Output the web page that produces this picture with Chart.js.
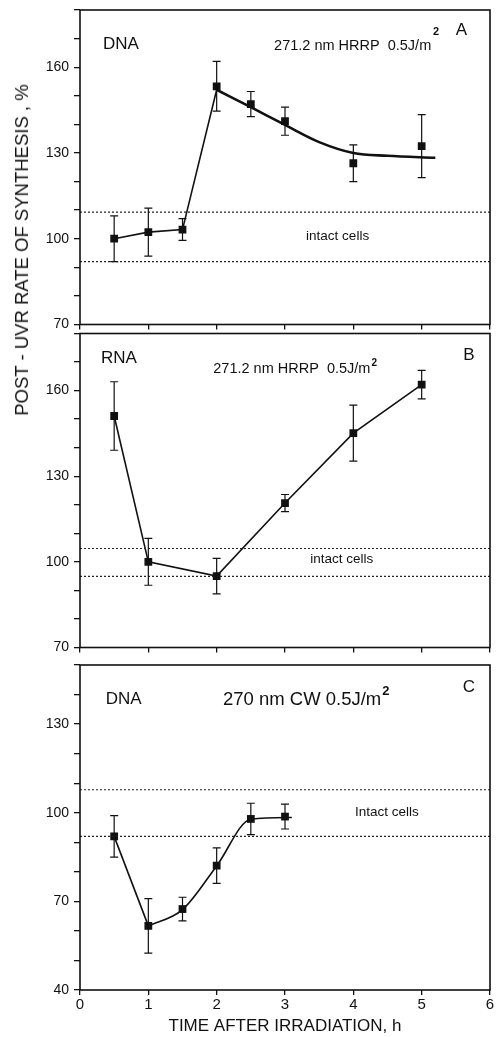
<!DOCTYPE html>
<html>
<head>
<meta charset="utf-8">
<script src="https://cdn.jsdelivr.net/npm/chart.js@4.4.0/dist/chart.umd.min.js"></script>
<style>
  body { margin: 0; background: #fff; font-family: "Liberation Sans", Arial, sans-serif; }
  #wrap { position: relative; width: 497px; height: 1037px; }
  .panel { position: absolute; left: 0; width: 497px; }
  #ytitle {
    position: absolute; left: 22px; top: 250px;
    transform: translate(-50%, -50%) rotate(-90deg);
    white-space: nowrap; font-size: 18.5px; color: #111;
  }
</style>
</head>
<body>
<div id="wrap">
  <div class="panel" style="top:0;height:330px"><canvas id="chartA"></canvas></div>
  <div class="panel" style="top:328px;height:325px"><canvas id="chartB"></canvas></div>
  <div class="panel" style="top:655px;height:382px"><canvas id="chartC"></canvas></div>
  <div id="ytitle">POST - UVR RATE OF SYNTHESIS , %</div>
</div>
<script>
// panel A: DNA, 271.2 nm HRRP
const aTimes = [0.5, 1, 1.5, 2, 2.5, 3, 4, 5];
const aRate  = [100, 102.3, 103.2, 153.3, 147.1, 141.1, 126.4, 132.4];
const aErr   = [8, 8.4, 3.8, 8.7, 4.4, 4.9, 6.4, 11];
const aFitX  = [2, 2.5, 3, 3.5, 4, 4.5, 5.2];
const aFitY  = [152.1, 146, 139.8, 133.8, 130, 129, 128.3];
const aIntact = [109.3, 92];

// panel B: RNA, 271.2 nm HRRP
const bTimes = [0.5, 1, 2, 3, 4, 5];
const bRate  = [151.1, 100, 95, 120.6, 145.1, 162.1];
const bErr   = [12, 8.2, 6.2, 3, 9.8, 5];
const bIntact = [104.7, 94.9];

// panel C: DNA, 270 nm CW
const cTimes = [0.5, 1, 1.5, 2, 2.5, 3];
const cRate  = [92, 61.7, 67.4, 82.1, 97.9, 98.7];
const cErr   = [7, 9.2, 4, 6, 5.3, 4.2];
const cFitX  = [1, 1.5, 2, 2.5, 3.1];
const cFitY  = [61.7, 67.2, 82, 97.8, 98.4];
const cIntact = [107.8, 92];

const xTicks = [0, 1, 2, 3, 4, 5, 6];
const abYLabels = [70, 100, 130, 160];
const cYLabels = [40, 70, 100, 130];

const pts = (xs, ys) => xs.map((x, i) => ({x: x, y: ys[i]}));

const notes = {
  chartA: [
    {t: 'DNA', x: 0.6, y: 168, size: 17},
    {t: '271.2 nm HRRP  0.5J/m', x: 3.99, y: 167.3, size: 14.5},
    {t: '2', x: 5.21, y: 172.4, size: 11, bold: true},
    {t: 'A', x: 5.58, y: 172.9, size: 17},
    {t: 'intact cells', x: 3.77, y: 101, size: 13.5}
  ],
  chartB: [
    {t: 'RNA', x: 0.57, y: 171.3, size: 17},
    {t: '271.2 nm HRRP  0.5J/m', x: 3.1, y: 167.4, size: 14.5, sup: '2'},
    {t: 'B', x: 5.69, y: 172.3, size: 17},
    {t: 'intact cells', x: 3.83, y: 100.9, size: 13.5}
  ],
  chartC: [
    {t: 'DNA', x: 0.64, y: 138.5, size: 17},
    {t: '270 nm CW 0.5J/m', x: 3.25, y: 138.1, size: 18.5, sup: '2'},
    {t: 'C', x: 5.69, y: 142.5, size: 17},
    {t: 'Intact cells', x: 4.49, y: 100, size: 13.5}
  ]
};

const frame = {
  id: 'frame',
  afterDatasetsDraw(chart) {
    const ctx = chart.ctx, a = chart.chartArea, xs = chart.scales.x, ys = chart.scales.y;
    ctx.save();
    ctx.strokeStyle = '#111';
    ctx.fillStyle = '#111';
    // error bars
    chart.data.datasets.forEach((ds, i) => {
      if (!ds.errs) return;
      chart.getDatasetMeta(i).data.forEach((p, j) => {
        const v = ds.data[j].y, e = ds.errs[j];
        const top = ys.getPixelForValue(v + e), bot = ys.getPixelForValue(v - e);
        ctx.lineWidth = 1.2;
        ctx.beginPath();
        ctx.moveTo(p.x, top); ctx.lineTo(p.x, bot);
        ctx.moveTo(p.x - 4, top); ctx.lineTo(p.x + 4, top);
        ctx.moveTo(p.x - 4, bot); ctx.lineTo(p.x + 4, bot);
        ctx.stroke();
      });
    });
    // box
    ctx.lineWidth = 1.6;
    ctx.strokeRect(a.left, a.top, a.width, a.height);
    // labels
    ctx.textBaseline = 'middle';
    (notes[chart.canvas.id] || []).forEach(n => {
      const px = xs.getPixelForValue(n.x), py = ys.getPixelForValue(n.y);
      ctx.font = (n.bold ? 'bold ' : '') + n.size + 'px "Liberation Sans", Arial, sans-serif';
      ctx.textAlign = 'center';
      ctx.fillText(n.t, px, py);
      if (n.sup) {
        const w = ctx.measureText(n.t).width;
        ctx.font = 'bold ' + Math.round(n.size * 0.7) + 'px "Liberation Sans", Arial, sans-serif';
        ctx.textAlign = 'left';
        ctx.fillText(n.sup, px + w / 2 + 1, py - n.size * 0.45);
      }
    });
    ctx.restore();
  }
};

function noOverflow(s) {
  s.paddingTop = 0; s.paddingBottom = 0; s.paddingLeft = 0; s.paddingRight = 0;
}

function makePanel(id, o) {
  const datasets = [
    {data: pts([0, 6], [o.intact[0], o.intact[0]]), showLine: true, borderColor: '#222', borderWidth: 1.1, borderDash: [2, 2], pointRadius: 0},
    {data: pts([0, 6], [o.intact[1], o.intact[1]]), showLine: true, borderColor: '#222', borderWidth: 1.1, borderDash: [2, 2], pointRadius: 0},
    {data: o.line, showLine: true, borderColor: '#111', borderWidth: 1.6, pointRadius: 0, tension: 0}
  ];
  if (o.fit) {
    datasets.push({data: o.fit, showLine: true, borderColor: '#111', borderWidth: o.fitWidth, pointRadius: 0, cubicInterpolationMode: 'monotone'});
  }
  datasets.push({data: o.points, errs: o.errs, showLine: false, pointStyle: 'rect', pointRadius: 5.5, backgroundColor: '#111', borderColor: '#111', borderWidth: 0});

  new Chart(document.getElementById(id), {
    type: 'scatter',
    data: {datasets: datasets},
    options: {
      responsive: true,
      maintainAspectRatio: false,
      animation: false,
      layout: {padding: {top: o.padTop, right: 7, left: 0, bottom: 0}},
      plugins: {legend: {display: false}, tooltip: {enabled: false}},
      scales: {
        x: {
          type: 'linear', min: 0, max: 6,
          afterFit: s => { s.height = o.xHeight; noOverflow(s); },
          afterBuildTicks: s => { s.ticks = xTicks.map(v => ({value: v})); },
          border: {display: false},
          grid: {drawOnChartArea: false, color: '#111', tickLength: 5, lineWidth: 1.3},
          ticks: {display: o.xLabels, color: '#111', padding: 1, font: {size: 15, family: '"Liberation Sans", Arial'}},
          title: {display: o.xLabels, text: 'TIME AFTER IRRADIATION, h', color: '#111', padding: {top: 0, bottom: 0}, font: {size: 17, family: '"Liberation Sans", Arial'}}
        },
        y: {
          min: o.yMin, max: o.yMax,
          afterFit: s => { s.width = 80; noOverflow(s); },
          border: {display: false},
          grid: {drawOnChartArea: false, color: '#111', tickLength: 6, lineWidth: 1.3},
          ticks: {
            stepSize: 10, autoSkip: false, color: '#111', padding: 5,
            font: {size: 14, family: '"Liberation Sans", Arial'},
            callback: v => o.yLabels.includes(v) ? v : ''
          }
        }
      }
    },
    plugins: [frame]
  });
}

makePanel('chartA', {
  points: pts(aTimes, aRate), errs: aErr,
  line: pts(aTimes.slice(0, 3), aRate.slice(0, 3)).concat([{x: aFitX[0], y: aFitY[0]}]),
  fit: pts(aFitX, aFitY), fitWidth: 2.6,
  intact: aIntact, yMin: 70, yMax: 180, yLabels: abYLabels,
  padTop: 10, xHeight: 5, xLabels: false
});

makePanel('chartB', {
  points: pts(bTimes, bRate), errs: bErr,
  line: pts(bTimes, bRate),
  intact: bIntact, yMin: 70, yMax: 180, yLabels: abYLabels,
  padTop: 5, xHeight: 5, xLabels: false
});

makePanel('chartC', {
  points: pts(cTimes, cRate), errs: cErr,
  line: pts(cTimes.slice(0, 2), cRate.slice(0, 2)),
  fit: pts(cFitX, cFitY), fitWidth: 1.6,
  intact: cIntact, yMin: 40, yMax: 150, yLabels: cYLabels,
  padTop: 10, xHeight: 47, xLabels: true
});
</script>
</body>
</html>
